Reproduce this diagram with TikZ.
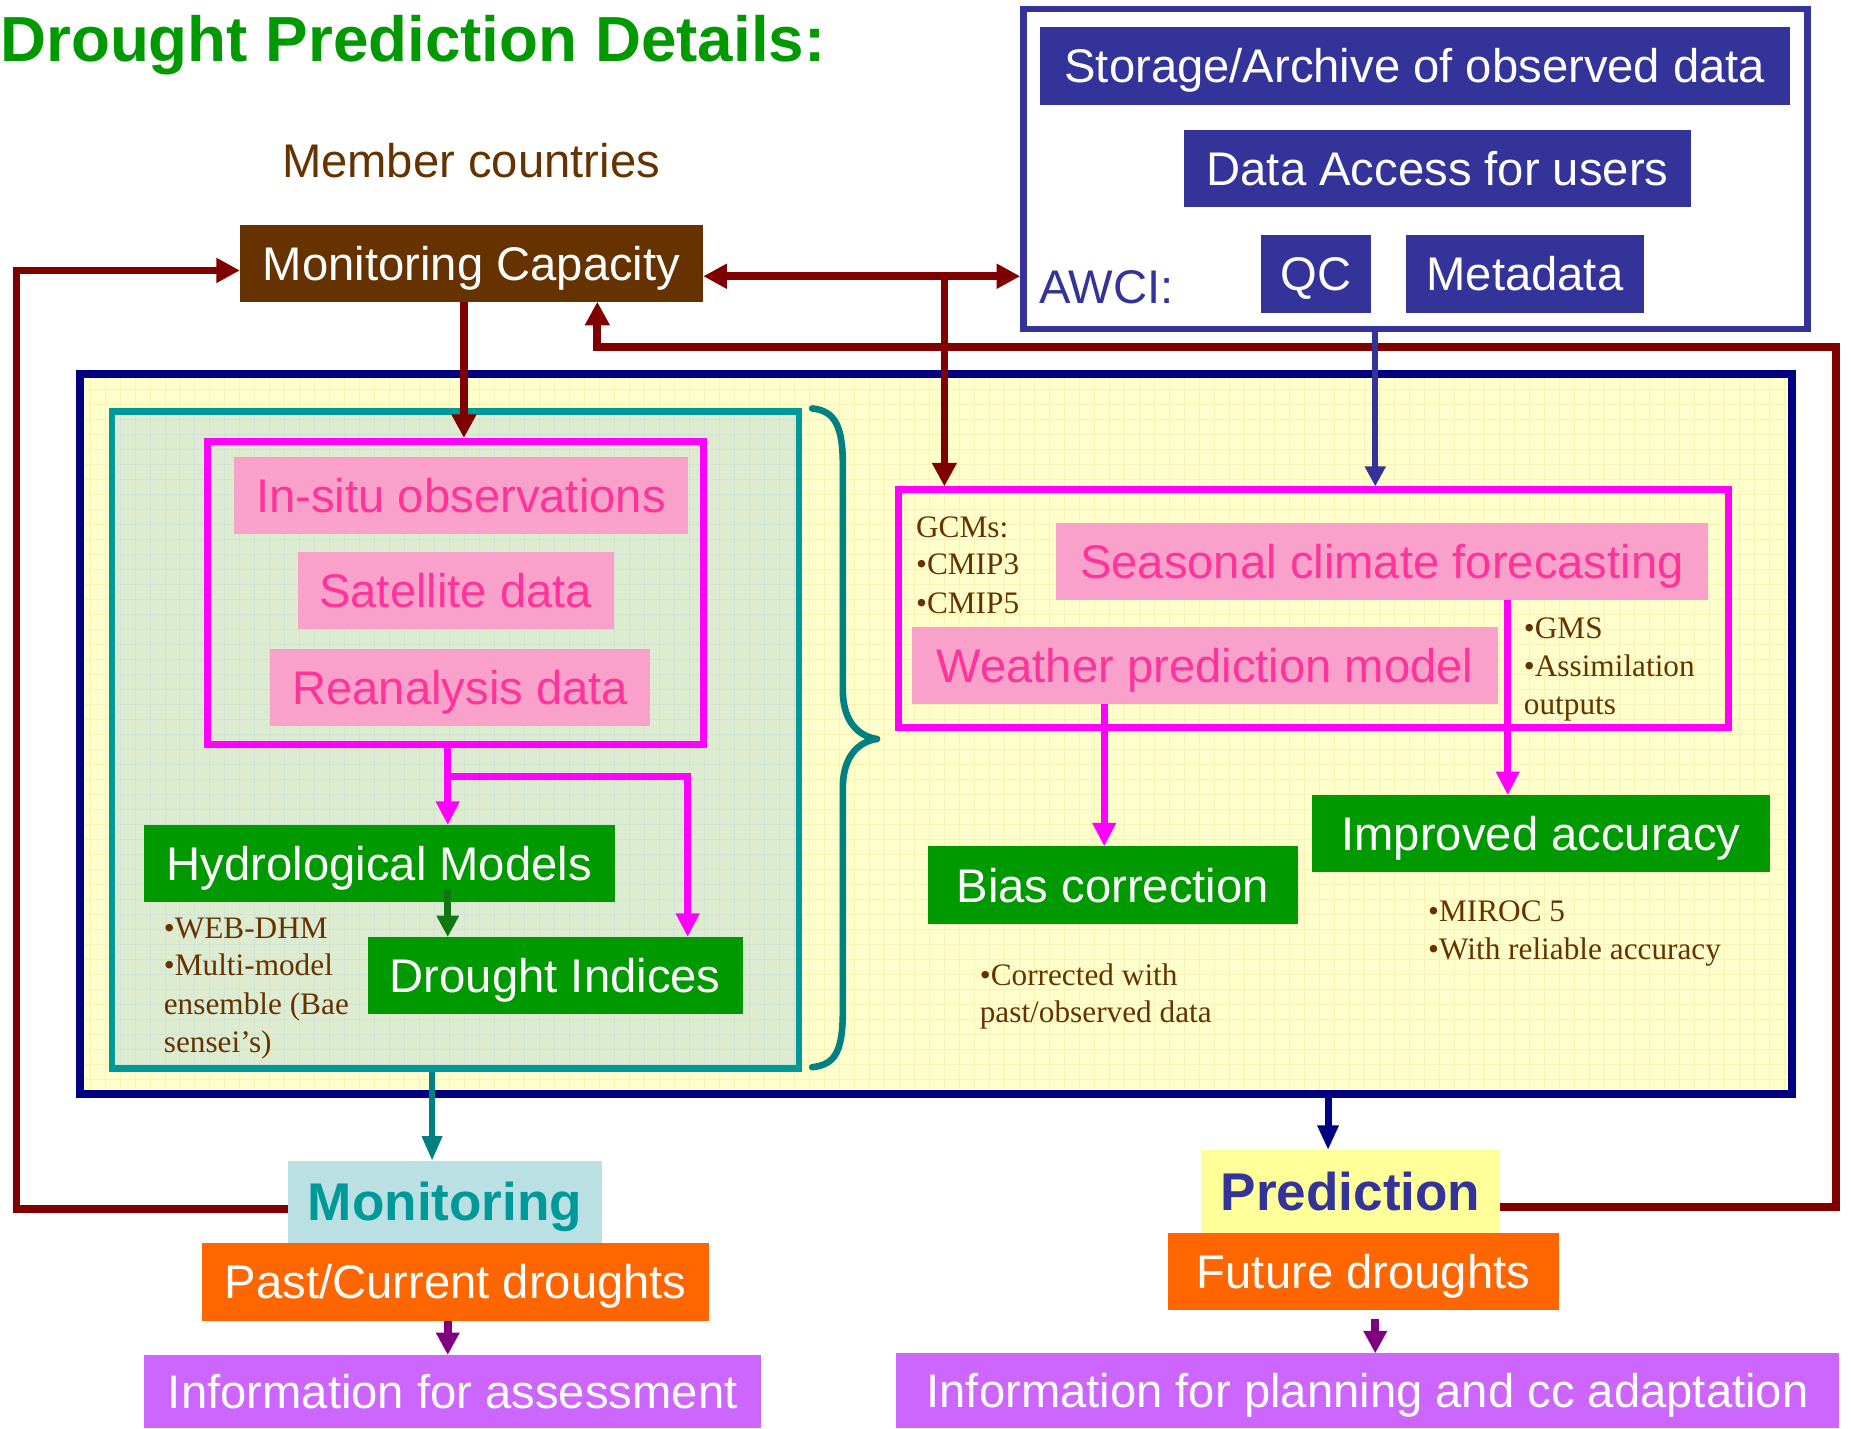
\documentclass[tikz,border=0pt]{standalone}
\usepackage{fontspec}
\setmainfont{Liberation Sans}
\newfontfamily\notefont{Liberation Serif}
\usetikzlibrary{arrows.meta,calc}
\definecolor{titlegreen}{HTML}{009900}
\definecolor{brownc}{HTML}{663300}
\definecolor{darkred}{HTML}{800000}
\definecolor{awciblue}{HTML}{333399}
\definecolor{navyc}{HTML}{000080}
\definecolor{tealc}{HTML}{009999}
\definecolor{tealdark}{HTML}{008080}
\definecolor{magc}{HTML}{FF00FF}
\definecolor{pinkfill}{HTML}{F9A0CB}
\definecolor{pinktext}{HTML}{FF3399}
\definecolor{boxgreen}{HTML}{009900}
\definecolor{arrowgreen}{HTML}{0F770F}
\definecolor{monfill}{HTML}{BBE0E3}
\definecolor{orangec}{HTML}{FF6600}
\definecolor{violetc}{HTML}{CC66FF}
\definecolor{predfill}{HTML}{FFFF99}
\definecolor{purplec}{HTML}{800080}
\definecolor{bigfill}{HTML}{FFFFCC}
\definecolor{biggrid}{HTML}{F8F2B4}
\definecolor{tealfill}{HTML}{DDEBD0}
\definecolor{tealgrid}{HTML}{D0E4D6}
\tikzset{
  boxtext/.style={rectangle, inner sep=0pt, outer sep=0pt, text=white,
    font=\fontsize{40}{48}\selectfont, text height=28.6pt, text depth=0pt},
  boldtext/.style={boxtext, font=\bfseries\fontsize{45}{54}\selectfont, text height=32.2pt},
  pinkbox/.style={boxtext, fill=pinkfill, text=pinktext},
  greenbox/.style={boxtext, fill=boxgreen},
  orangebox/.style={boxtext, fill=orangec},
  violetbox/.style={boxtext, fill=violetc},
  awcibox/.style={boxtext, fill=awciblue},
  frame/.style={rectangle, inner sep=0pt, fill=none},
  note/.style={anchor=base west, inner sep=0pt, text=brownc, font=\notefont\fontsize{26.5}{32}\selectfont},
  dred/.style={draw=darkred, line width=6.5pt},
  tipB/.style={-{Triangle[length=20pt,width=20pt]}},
  bluearrow/.style={draw=awciblue, line width=5pt, -{Triangle[length=17pt,width=17pt]}},
  magarrow/.style={draw=magc, line width=6pt, -{Triangle[length=20pt,width=19pt]}},
  greenarrow/.style={draw=arrowgreen, line width=6pt, -{Triangle[length=18pt,width=18pt]}},
  tealarrow/.style={draw=tealdark, line width=5.5pt, -{Triangle[length=21pt,width=16pt]}},
  navyarrow/.style={draw=navyc, line width=6pt, -{Triangle[length=21pt,width=17pt]}},
  purparrow/.style={draw=purplec, line width=6.5pt, -{Triangle[length=19pt,width=19pt]}},
}
\begin{document}
\begin{tikzpicture}[x=1pt,y=-1pt]
\useasboundingbox (0,0) rectangle (1568,1210);
\fill[white] (0,0) rectangle (1568,1210);

% title and header
\node[anchor=base west, inner sep=0pt, text=titlegreen, font=\bfseries\fontsize{54}{60}\selectfont] (title) at (0,52) {Drought Prediction Details:};
\node[anchor=base, inner sep=0pt, text=brownc, font=\fontsize{40}{48}\selectfont] (member) at (399,150) {Member countries};
\node[boxtext, fill=brownc, minimum width=392.5pt, minimum height=65pt] (moncap) at (399.5,223.1) {Monitoring Capacity};

% AWCI block
\node[frame, draw=awciblue, line width=5.5pt, minimum width=664pt, minimum height=271pt] (awci) at (1199,143) {};
\node[awcibox, minimum width=635pt, minimum height=65.7pt] (storage) at (1198.5,55.9) {Storage/Archive of observed data};
\node[awcibox, minimum width=430pt, minimum height=65pt] (access) at (1217.75,142.5) {Data Access for users};
\node[awcibox, minimum width=93.6pt, minimum height=66pt] (qc) at (1114.8,232) {QC};
\node[awcibox, minimum width=201.7pt, minimum height=66pt] (meta) at (1291.75,232) {Metadata};
\node[anchor=base west, inner sep=0pt, text=awciblue, font=\fontsize{40}{48}\selectfont] (awcilabel) at (880,257.5) {AWCI:};

% big yellow panel
\fill[bigfill] (67.5,317) rectangle (1518,926.7);
\begin{scope}
\clip (67.5,317) rectangle (1518,926.7);
\draw[biggrid, line width=0.7pt, step=12.7pt] (60,310) grid (1530,940);
\end{scope}
\node[frame, draw=navyc, line width=6.5pt, minimum width=1450.5pt, minimum height=609.7pt] (big) at (792.75,621.9) {};

% teal panel
\fill[tealfill] (95,348.5) rectangle (677,905);
\begin{scope}
\clip (95,348.5) rectangle (677,905);
\draw[tealgrid, line width=0.7pt, step=12.7pt] (90,340) grid (690,910);
\end{scope}
\node[frame, draw=tealc, line width=5.5pt, minimum width=582pt, minimum height=556.5pt] (teal) at (386,626.75) {};

% brace
\draw[tealdark, line width=5.6pt, line join=round, line cap=round] (688,346) .. controls (708,348) and (714,362) .. (714,395) -- (714,585)
  .. controls (714,612) and (728,624) .. (743,626) .. controls (728,628) and (714,640) .. (714,667)
  -- (714,855) .. controls (714,890) and (708,902) .. (688,904);

% left magenta group
\node[frame, draw=magc, line width=6pt, minimum width=420pt, minimum height=256.6pt] (pinkL) at (386,502.3) {};
\node[pinkbox, minimum width=385pt, minimum height=65pt] (insitu) at (390.5,419.5) {In-situ observations};
\node[pinkbox, minimum width=267.5pt, minimum height=65pt] (sat) at (386,500.5) {Satellite data};
\node[pinkbox, minimum width=322pt, minimum height=64.8pt] (rean) at (389.9,582.2) {Reanalysis data};
\node[greenbox, minimum width=398.4pt, minimum height=64.9pt] (hydro) at (321.4,731.35) {Hydrological Models};
\node[greenbox, minimum width=317.3pt, minimum height=64.9pt] (di) at (470.35,826.15) {Drought Indices};

\node[note] (w1) at (138.6,794.6) {•WEB-DHM};
\node[note] (w2) at (138.6,826.6) {•Multi-model};
\node[note] (w3) at (138.6,859) {ensemble (Bae};
\node[note] (w4) at (138.6,891.4) {sensei’s)};

% right magenta group
\node[frame, draw=magc, line width=6pt, minimum width=703pt, minimum height=201.5pt] (pinkR) at (1112.5,515.75) {};
\node[pinkbox, minimum width=551.7pt, minimum height=65.5pt] (seasonal) at (1170.65,475.85) {Seasonal climate forecasting};
\node[pinkbox, minimum width=496.5pt, minimum height=65.5pt] (weather) at (1020.75,563.75) {Weather prediction model};
\node[greenbox, minimum width=313.2pt, minimum height=65.6pt] (bias) at (942.6,749.8) {Bias correction};
\node[greenbox, minimum width=387.4pt, minimum height=64.9pt] (improved) at (1305.3,706.05) {Improved accuracy};

\node[note] (g1) at (775.8,455.5) {GCMs:};
\node[note] (g2) at (775.8,487) {•CMIP3};
\node[note] (g3) at (775.8,519.3) {•CMIP5};
\node[note] (s1) at (1290.7,540.5) {•GMS};
\node[note] (s2) at (1290.7,572.8) {•Assimilation};
\node[note] (s3) at (1290.7,605.2) {outputs};
\node[note] (c1) at (829.8,834.4) {•Corrected with};
\node[note] (c2) at (829.8,866.2) {past/observed data};
\node[note] (m1) at (1209.6,780.3) {•MIROC 5};
\node[note] (m2) at (1209.6,812.7) {•With reliable accuracy};

% bottom boxes
\node[boldtext, fill=monfill, text=tealc, minimum width=266pt, minimum height=69.2pt] (monitoring) at (377,1018.1) {Monitoring};
\node[orangebox, minimum width=430pt, minimum height=66.1pt] (past) at (386,1085.75) {Past/Current droughts};
\node[violetbox, minimum width=523pt, minimum height=61.6pt] (infoA) at (383.5,1178.6) {Information for assessment};
\node[boldtext, fill=predfill, text=awciblue, minimum width=254pt, minimum height=70pt] (prediction) at (1144,1009.2) {Prediction};
\node[orangebox, minimum width=332pt, minimum height=65.2pt] (future) at (1155,1076.8) {Future droughts};
\node[violetbox, minimum width=799pt, minimum height=63pt] (infoP) at (1158.5,1177.9) {Information for planning and cc adaptation};

% coordinates for connectors
\coordinate (jn) at (800,234);
\coordinate (rt) at (1555,294);
\coordinate (lt) at (506,294);
\coordinate (dx) at (393,0);
\coordinate (bx) at (1165,0);
\coordinate (mb) at (379.3,657.6);
\coordinate (mc) at (582.5,657.6);
\coordinate (tx) at (366,0);
\coordinate (nx) at (1125,0);
\coordinate (px) at (1165,1117);
\coordinate (wx) at (935.4,0);
\coordinate (sx) at (1277.2,0);

% brown connectors
\draw[dred, tipB] ($(monitoring.west)+(0,6)$) -- ++(-230,0) |- ($(moncap.west)+(0,6)$);
\draw[dred, {Triangle[length=20pt,width=20pt]}-{Triangle[length=20pt,width=20pt]}] (moncap.east |- jn) -- (awci.west |- jn);
\draw[dred, tipB] (jn) -- (jn |- pinkR.north);
\draw[dred, tipB] ($(prediction.east)+(0,13)$) -| (rt) -- (lt) -- (lt |- moncap.south);
\draw[dred, tipB] (dx |- moncap.south) -- (dx |- pinkL.north);

% blue
\draw[bluearrow] (bx |- awci.south) -- (bx |- pinkR.north);

% magenta left
\draw[magarrow] (mb |- pinkL.south) -- (mb |- hydro.north);
\draw[magarrow] (mb) -- (mc) -- (mc |- di.north);
\draw[greenarrow] ($(mb |- hydro.south)+(0,-11)$) -- (mb |- di.north);

% magenta right
\draw[magarrow] (wx |- weather.south) -- (wx |- bias.north);
\draw[magarrow] (sx |- seasonal.south) -- (sx |- improved.north);

% to monitoring / prediction
\draw[tealarrow] (tx |- teal.south) -- (tx |- monitoring.north);
\draw[navyarrow] (nx |- big.south) -- (nx |- prediction.north);

% purple
\draw[purparrow] (mb |- past.south) -- (mb |- infoA.north);
\draw[purparrow] (px) -- (px |- infoP.north);
\end{tikzpicture}
\end{document}
